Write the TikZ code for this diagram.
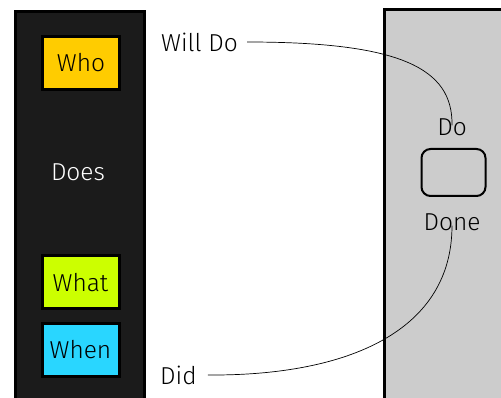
\documentclass[tikz,border=0pt]{standalone}
\usepackage{fontspec}
\setmainfont{Fira Sans}[UprightFont=* Light]
\definecolor{panel}{HTML}{1B1B1B}
\definecolor{page}{HTML}{CCCCCC}
\definecolor{who}{HTML}{FFCC00}
\definecolor{what}{HTML}{CCFF00}
\definecolor{when}{HTML}{29D6FF}

\begin{document}
\begin{tikzpicture}[
x=1pt, y=-1pt,
every node/.style={
font=\fontsize{24.5}{28}\selectfont,
inner sep=0pt
},
tag/.style={
draw=black,
line width=3pt,
minimum width=77pt,
minimum height=53pt
}
]

\useasboundingbox (0,0) rectangle (501,398);
\clip (0,0) rectangle (501,398);

% the two panels
\fill[panel] (15.5,400) rectangle (144.5,11.5);
\draw[line width=3pt] (15.5,400) |- (144.5,11.5) -- (144.5,400);
\fill[page] (384.5,400) rectangle (510,9.5);
\draw[line width=3pt] (384.5,400) |- (510,9.5);

\node[tag, fill=who] (Who) at (81,63) {Who};
\node[text=white] (Does) at (78,172) {Does};
\node[tag, fill=what] (What) at (80.5,282.5) {What};
\node[tag, fill=when] (When) at (80.5,350) {When};

\node[draw, line width=2pt, rounded corners=9pt, minimum width=64pt, minimum height=47pt] (Box) at (453.5,172.5) {};
\node (Do) at (452,127) {Do};
\node (Done) at (452,222) {Done};

\node[anchor=west] (Will) at (161,42) {Will Do};
\node[anchor=west] (Did) at (160,375) {Did};

\draw[line width=0.7pt] ([xshift=9pt]Will.east) .. controls (400,42) and (453,68) .. ([yshift=-7pt]Do.north);
\draw[line width=0.7pt] ([xshift=11pt]Did.east) .. controls (350,376) and (452,330) .. ([yshift=5pt]Done.south);

\end{tikzpicture}
\end{document}
